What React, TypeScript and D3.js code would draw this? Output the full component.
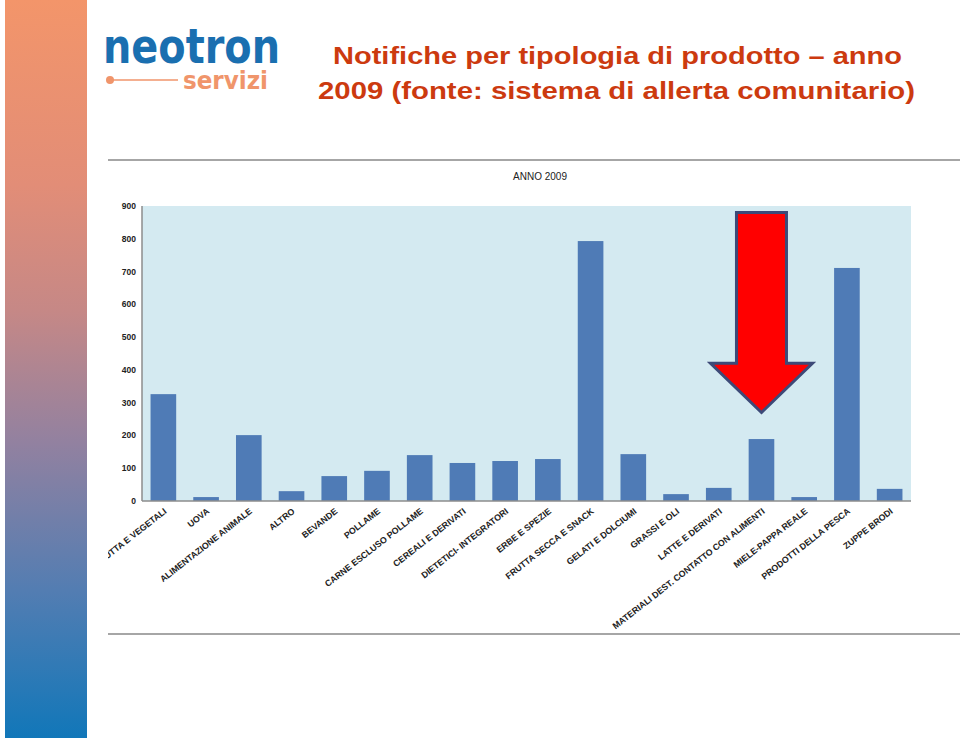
import React from "react";
import * as d3 from "d3";

const categories = [
  "FRUTTA E VEGETALI",
  "UOVA",
  "ALIMENTAZIONE ANIMALE",
  "ALTRO",
  "BEVANDE",
  "POLLAME",
  "CARNE ESCLUSO POLLAME",
  "CEREALI E DERIVATI",
  "DIETETICI- INTEGRATORI",
  "ERBE E SPEZIE",
  "FRUTTA SECCA E SNACK",
  "GELATI E DOLCIUMI",
  "GRASSI E OLI",
  "LATTE E DERIVATI",
  "MATERIALI DEST. CONTATTO CON ALIMENTI",
  "MIELE-PAPPA REALE",
  "PRODOTTI DELLA PESCA",
  "ZUPPE BRODI",
];
const values = [326, 12, 201, 30, 76, 92, 140, 116, 122, 128, 793, 143, 21, 40, 189, 12, 711, 37];
const yTicks = [0, 100, 200, 300, 400, 500, 600, 700, 800, 900];
const highlighted = "MATERIALI DEST. CONTATTO CON ALIMENTI";

const W = 960;
const H = 738;
const plot = { left: 142, right: 911, top: 206, bottom: 501 };

export default function App() {
  const x = d3
    .scaleBand<string>()
    .domain(categories)
    .range([plot.left, plot.right])
    .paddingInner(0.4)
    .paddingOuter(0.2);
  const y = d3.scaleLinear().domain([0, 900]).range([plot.bottom, plot.top]);

  const hx = (x(highlighted) as number) + x.bandwidth() / 2;
  const shaftHalf = 25;
  const headHalf = 51;
  const arrowTop = y(880);
  const headBase = y(420);
  const tipY = y(270);
  const arrowPath = [
    [hx - shaftHalf, arrowTop],
    [hx + shaftHalf, arrowTop],
    [hx + shaftHalf, headBase],
    [hx + headHalf, headBase],
    [hx, tipY],
    [hx - headHalf, headBase],
    [hx - shaftHalf, headBase],
  ];
  const arrowD = d3.line()(arrowPath as [number, number][]) + "Z";

  return (
    <svg
      width={W}
      height={H}
      style={{ position: "absolute", left: 0, top: 0, background: "#fff" }}
      fontFamily="'Liberation Sans', Arial, sans-serif"
    >
      <defs>
        <linearGradient id="strip" x1="0" y1="0" x2="0" y2="1">
          <stop offset="0" stopColor="#f3956a" />
          <stop offset="0.25" stopColor="#e28d77" />
          <stop offset="0.42" stopColor="#c68886" />
          <stop offset="0.6" stopColor="#9281a0" />
          <stop offset="0.8" stopColor="#537db2" />
          <stop offset="1" stopColor="#1177b9" />
        </linearGradient>
        <clipPath id="chartClip">
          <rect x={108} y={150} width={852} height={500} />
        </clipPath>
      </defs>

      <rect x={5} y={0} width={82} height={H} fill="url(#strip)" />

      {/* logo */}
      <text
        x={103}
        y={63}
        fontFamily="'DejaVu Sans', sans-serif"
        fontWeight="bold"
        fontSize={48}
        fill="#1a6fb0"
        textLength={177}
        lengthAdjust="spacingAndGlyphs"
      >
        neotron
      </text>
      <line x1={110} y1={80} x2={178} y2={80} stroke="#f0956b" strokeWidth={1.5} />
      <circle cx={110} cy={80} r={4} fill="#f0956b" />
      <text
        x={183}
        y={89}
        fontFamily="'DejaVu Sans', sans-serif"
        fontWeight="bold"
        fontSize={24}
        fill="#f0956b"
        textLength={85}
        lengthAdjust="spacingAndGlyphs"
      >
        servizi
      </text>

      {/* title */}
      <text
        x={333}
        y={64}
        fontWeight="bold"
        fontSize={24}
        fill="#cc3a0f"
        textLength={569}
        lengthAdjust="spacingAndGlyphs"
      >
        Notifiche per tipologia di prodotto – anno
      </text>
      <text
        x={318}
        y={99}
        fontWeight="bold"
        fontSize={24}
        fill="#cc3a0f"
        textLength={597}
        lengthAdjust="spacingAndGlyphs"
      >
        2009 (fonte: sistema di allerta comunitario)
      </text>

      <g clipPath="url(#chartClip)">
        <line x1={108} y1={160} x2={960} y2={160} stroke="#a6a6a6" strokeWidth={2} />
        <line x1={108} y1={634} x2={960} y2={634} stroke="#a6a6a6" strokeWidth={2} />

        <text x={540} y={180} textAnchor="middle" fontSize={10} fill="#222">
          ANNO 2009
        </text>

        <rect
          x={plot.left}
          y={plot.top}
          width={plot.right - plot.left}
          height={plot.bottom - plot.top}
          fill="#d4eaf1"
        />

        {categories.map((c, i) => (
          <rect
            key={c}
            x={x(c)}
            y={y(values[i])}
            width={x.bandwidth()}
            height={y(0) - y(values[i])}
            fill="#4f7bb6"
          />
        ))}

        <line x1={plot.left} y1={plot.top} x2={plot.left} y2={plot.bottom} stroke="#8c8c8c" strokeWidth={1.5} />
        <line x1={plot.left} y1={plot.bottom} x2={plot.right} y2={plot.bottom} stroke="#8c8c8c" strokeWidth={1.5} />

        {yTicks.map((t) => (
          <text
            key={t}
            x={136}
            y={y(t)}
            dy="0.35em"
            textAnchor="end"
            fontSize={8.5}
            fontWeight="bold"
            fill="#222"
          >
            {t}
          </text>
        ))}

        {categories.map((c) => {
          const cx = (x(c) as number) + x.bandwidth() / 2 + 2;
          return (
            <text
              key={c}
              transform={`translate(${cx},${plot.bottom + 9}) rotate(-38)`}
              textAnchor="end"
              dy="0.35em"
              fontSize={8.8}
              fontWeight="bold"
              fill="#222"
            >
              {c}
            </text>
          );
        })}

        <path d={arrowD} fill="#ff0000" stroke="#3d4a78" strokeWidth={3} strokeLinejoin="miter" />
      </g>
    </svg>
  );
}
